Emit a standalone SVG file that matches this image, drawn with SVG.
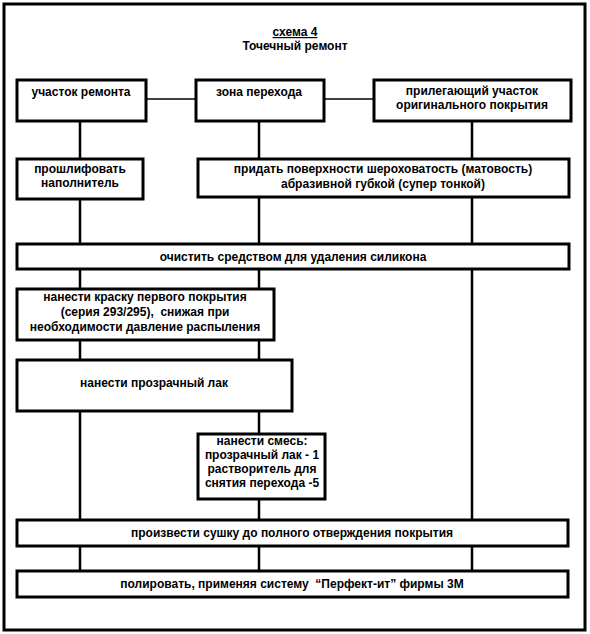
<svg xmlns="http://www.w3.org/2000/svg" width="590" height="634" viewBox="0 0 590 634">
<style>
.b{fill:#fff;stroke:#000;stroke-width:3}
.t{font-family:"Liberation Sans",Arial,sans-serif;font-weight:bold;font-size:12px;fill:#000;text-anchor:middle;white-space:pre}
.c{stroke:#000;stroke-width:2.5;fill:none}
.h{stroke:#000;stroke-width:1.5;fill:none}
</style>
<rect x="0" y="0" width="590" height="634" fill="#fff"/>
<rect x="4" y="4" width="581" height="626" fill="none" stroke="#000" stroke-width="3"/>
<g id="title">
<text class="t" x="295" y="36" text-decoration="underline">схема 4</text>
<text class="t" x="295" y="50">Точечный ремонт</text>
</g>
<g id="connectors">
<line class="h" x1="146" y1="99" x2="195" y2="99"/>
<line class="h" x1="324" y1="99" x2="373" y2="99"/>
<line class="c" x1="80" y1="121" x2="80" y2="158"/>
<line class="c" x1="259" y1="121" x2="259" y2="158"/>
<line class="c" x1="472" y1="121" x2="472" y2="158"/>
<line class="c" x1="80" y1="199" x2="80" y2="243"/>
<line class="c" x1="259" y1="197" x2="259" y2="243"/>
<line class="c" x1="472" y1="197" x2="472" y2="243"/>
<line class="c" x1="80" y1="269" x2="80" y2="288"/>
<line class="c" x1="259" y1="269" x2="259" y2="288"/>
<line class="c" x1="472" y1="269" x2="472" y2="519"/>
<line class="c" x1="80" y1="340" x2="80" y2="359"/>
<line class="c" x1="259" y1="340" x2="259" y2="359"/>
<line class="c" x1="80" y1="411" x2="80" y2="519"/>
<line class="c" x1="259" y1="411" x2="259" y2="433"/>
<line class="c" x1="259" y1="499" x2="259" y2="519"/>
<line class="c" x1="80" y1="546" x2="80" y2="570"/>
<line class="c" x1="259" y1="546" x2="259" y2="570"/>
<line class="c" x1="472" y1="546" x2="472" y2="570"/>
</g>
<g id="n1"><rect class="b" x="17" y="80" width="129" height="41"/><text class="t" x="81" y="96">участок ремонта</text></g>
<g id="n2"><rect class="b" x="196" y="80" width="128" height="41"/><text class="t" x="259" y="96">зона перехода</text></g>
<g id="n3"><rect class="b" x="374" y="80" width="197" height="41"/><text class="t" x="472" y="95">прилегающий участок</text><text class="t" x="472" y="109">оригинального покрытия</text></g>
<g id="n4"><rect class="b" x="17" y="159" width="126" height="40"/><text class="t" x="80" y="173">прошлифовать</text><text class="t" x="80" y="187">наполнитель</text></g>
<g id="n5"><rect class="b" x="198" y="159" width="371" height="38"/><text class="t" x="383" y="173">придать поверхности шероховатость (матовость)</text><text class="t" x="383" y="188">абразивной губкой (супер тонкой)</text></g>
<g id="n6"><rect class="b" x="17" y="244" width="552" height="25"/><text class="t" x="293" y="261">очистить средством для удаления силикона</text></g>
<g id="n7"><rect class="b" x="17" y="289" width="257" height="51"/><text class="t" x="145" y="301">нанести краску первого покрытия</text><text class="t" x="145" y="316">(серия 293/295),  снижая при</text><text class="t" x="145" y="331">необходимости давление распыления</text></g>
<g id="n8"><rect class="b" x="17" y="360" width="275" height="51"/><text class="t" x="154" y="387">нанести прозрачный лак</text></g>
<g id="n9"><rect class="b" x="198" y="434" width="127" height="65"/><text class="t" x="262" y="445">нанести смесь:</text><text class="t" x="262" y="459">прозрачный лак - 1</text><text class="t" x="262" y="473">растворитель для</text><text class="t" x="262" y="487">снятия перехода -5</text></g>
<g id="n10"><rect class="b" x="17" y="520" width="551" height="26"/><text class="t" x="292" y="537">произвести сушку до полного отверждения покрытия</text></g>
<g id="n11"><rect class="b" x="17" y="571" width="551" height="26"/><text class="t" x="292" y="588">полировать, применяя систему  “Перфект-ит” фирмы 3М</text></g>
</svg>
